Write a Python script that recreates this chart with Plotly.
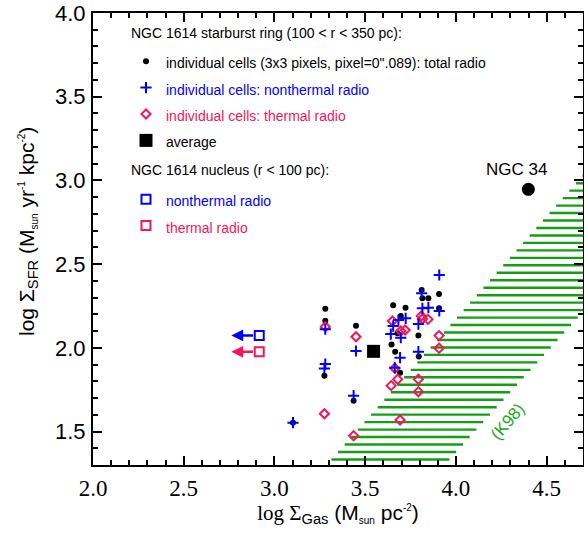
import numpy as np
import plotly.graph_objects as go

# ---------------- data ----------------
# NGC 1614 starburst ring, individual cells
total_x = [3.280, 3.280, 3.275, 3.449, 3.436, 3.654, 3.722, 3.696, 3.678, 3.645,
           3.665, 3.692, 3.811, 3.815, 3.848, 3.907, 3.907, 3.793, 3.795, 3.102]
total_y = [2.234, 2.162, 1.833, 2.132, 1.684, 2.254, 2.240, 2.190, 2.087, 2.020,
           1.977, 1.851, 2.345, 2.296, 2.296, 2.321, 2.236, 2.073, 1.948, 1.553]

nonth_x = [3.908, 3.811, 3.815, 3.848, 3.908, 3.793, 3.723, 3.683, 3.654, 3.641,
           3.696, 3.793, 3.692, 3.663, 3.449, 3.280, 3.280, 3.275, 3.436, 3.102]
nonth_y = [2.435, 2.326, 2.236, 2.240, 2.220, 2.142, 2.176, 2.166, 2.130, 2.082,
           2.060, 1.977, 1.941, 1.881, 1.981, 2.111, 1.903, 1.877, 1.714, 1.553]

therm_x = [3.280, 3.449, 3.275, 3.436, 3.650, 3.696, 3.720, 3.809, 3.815, 3.846,
           3.907, 3.907, 3.663, 3.679, 3.643, 3.793, 3.793, 3.692]
therm_y = [2.126, 2.066, 1.606, 1.475, 2.160, 2.100, 2.106, 2.190, 2.172, 2.170,
           2.073, 1.997, 1.878, 1.812, 1.774, 1.812, 1.738, 1.569]

avg_x = [3.546]
avg_y = [1.979]

# NGC 1614 nucleus (upper limits in gas)
nuc_x = [2.916, 2.916]
nuc_y = [2.074, 1.976]
nuc_limit_x = [2.762, 2.762]
nuc_names = ["nonthermal radio", "thermal radio"]

# NGC 34
ngc34_x = [4.399]
ngc34_y = [2.947]

# K98 band: upper-left and lower-right edges (two points each)
band_left_x = [3.308, 4.661]
band_left_y = [1.326, 2.983]
band_right_x = [3.958, 4.630]
band_right_y = [1.326, 2.131]
hatch_top = 3.028
hatch_step = 0.0446

x_range = [2.0, 4.7]
y_range = [1.3, 4.0]

# ---------------- style ----------------
BLUE = "#0000ff"
RED = "#f5145a"
GREEN = "#12a012"
SANS = "Liberation Sans, Arial, sans-serif"
SERIF = "Liberation Serif, Times New Roman, serif"

W, H = 584, 538
ML, MR, MT, MB = 93, 1, 13, 73
PW, PH = W - ML - MR, H - MT - MB


def px_x(p):  # pixel -> paper x
    return (p - ML) / PW


def px_y(p):  # pixel -> paper y
    return 1 - (p - MT) / PH


def edge(y, ex, ey):
    return ex[0] + (y - ey[0]) * (ex[1] - ex[0]) / (ey[1] - ey[0])


fig = go.Figure()

# K98 hatched band (horizontal hatch lines between the two edges)
levels = hatch_top - hatch_step * np.arange(60)
levels = levels[levels > y_range[0] - 0.01]
hx, hy = [], []
for lv in levels:
    hx += [edge(lv, band_left_x, band_left_y), edge(lv, band_right_x, band_right_y), None]
    hy += [lv, lv, None]
fig.add_trace(go.Scatter(x=hx, y=hy, mode="lines", line=dict(color=GREEN, width=2.4),
                         showlegend=False, hoverinfo="skip"))


def lg(text, color):
    return f'<span style="font-size:14px;color:{color}">{text}</span>'


fig.add_trace(go.Scatter(
    x=total_x, y=total_y, mode="markers",
    marker=dict(symbol="circle", size=6, color="black"),
    name=lg("individual cells (3x3 pixels, pixel=0\".089): total radio", "black"),
    legend="legend", legendrank=1))
fig.add_trace(go.Scatter(
    x=therm_x, y=therm_y, mode="markers",
    marker=dict(symbol="diamond-open", size=7, color=RED, line=dict(width=2, color=RED)),
    name=lg("individual cells: thermal radio", RED),
    legend="legend", legendrank=3))
fig.add_trace(go.Scatter(
    x=nonth_x, y=nonth_y, mode="markers",
    marker=dict(symbol="cross-thin", size=8, color=BLUE, line=dict(width=2, color=BLUE)),
    name=lg("individual cells: nonthermal radio", BLUE),
    legend="legend", legendrank=2))
fig.add_trace(go.Scatter(
    x=avg_x, y=avg_y, mode="markers",
    marker=dict(symbol="square", size=13, color="black"),
    name=lg("average", "black"),
    legend="legend", legendrank=4))

nuc_colors = [BLUE, RED]
for i in range(2):
    fig.add_trace(go.Scatter(
        x=[nuc_x[i]], y=[nuc_y[i]], mode="markers",
        marker=dict(symbol="square-open", size=9, color=nuc_colors[i],
                    line=dict(width=2, color=nuc_colors[i])),
        name=lg(nuc_names[i], nuc_colors[i]),
        legend="legend2", legendrank=5 + i))
    fig.add_annotation(
        x=nuc_limit_x[i], y=nuc_y[i], ax=nuc_x[i] - 0.026, ay=nuc_y[i],
        xref="x", yref="y", axref="x", ayref="y", text="",
        showarrow=True, arrowhead=2, arrowsize=0.95, arrowwidth=2.5,
        arrowcolor=nuc_colors[i], standoff=0, startstandoff=0)

fig.add_trace(go.Scatter(
    x=ngc34_x, y=ngc34_y, mode="markers",
    marker=dict(symbol="circle", size=13, color="black"),
    showlegend=False))
fig.add_annotation(x=ngc34_x[0], y=ngc34_y[0], text="NGC 34", showarrow=False,
                   xshift=-12, yshift=20, font=dict(size=17, family=SANS, color="black"))
fig.add_annotation(x=4.286, y=1.559, text="(K98)", showarrow=False, textangle=-49,
                   font=dict(size=17, family=SANS, color="#22a822"))

# legend headings
fig.add_annotation(xref="paper", yref="paper", x=px_x(129), y=px_y(33),
                   xanchor="left", yanchor="middle", showarrow=False,
                   text="NGC 1614 starburst ring (100 &lt; r &lt; 350 pc):",
                   font=dict(size=14, family=SANS, color="black"))
fig.add_annotation(xref="paper", yref="paper", x=px_x(129), y=px_y(170),
                   xanchor="left", yanchor="middle", showarrow=False,
                   text="NGC 1614 nucleus (r &lt; 100 pc):",
                   font=dict(size=14, family=SANS, color="black"))

# y-axis title
fig.add_annotation(xref="paper", yref="paper", x=px_x(28), y=px_y(232),
                   xanchor="center", yanchor="middle", showarrow=False, textangle=-90,
                   text=('log Σ<sub>SFR</sub> (M<sub><span style="font-size:10px">sun</span></sub> '
                         'yr<sup><span style="font-size:10px">-1</span></sup> '
                         'kpc<sup><span style="font-size:10px">-2</span></sup>)'),
                   font=dict(family=SANS, size=21, color="black"))

axis_common = dict(
    showgrid=False, zeroline=False, showline=True, linecolor="black", linewidth=2,
    mirror="ticks", ticks="inside", ticklen=9, tickwidth=1.5, tickcolor="black",
    minor=dict(ticks="inside", ticklen=5, tickwidth=1.5, tickcolor="black", dtick=0.1),
    dtick=0.5, tickformat=".1f", automargin=False, ticklabeloverflow="allow")

fig.update_xaxes(
    range=x_range, tick0=2.0, ticklabelstandoff=1,
    tickfont=dict(family=SERIF, size=23, color="black"),
    title=dict(
        text=(f'<span style="font-family:{SERIF}">log Σ</span>'
              '<sub>Gas</sub> (M<sub><span style="font-size:10px">sun</span></sub> '
              'pc<sup><span style="font-size:10px">-2</span></sup>)'),
        font=dict(family=SANS, size=21, color="black"), standoff=4),
    **axis_common)
fig.update_yaxes(
    range=y_range, tick0=1.5, ticklabelstandoff=1,
    tickfont=dict(family=SANS, size=22, color="black"),
    **axis_common)

leg_common = dict(xanchor="left", yanchor="top", bgcolor="rgba(0,0,0,0)",
                  font=dict(size=18, family=SANS), itemclick=False)
fig.update_layout(
    width=W, height=H,
    margin=dict(l=ML, r=MR, t=MT, b=MB),
    plot_bgcolor="white", paper_bgcolor="white",
    font=dict(family=SANS, color="black"),
    legend=dict(x=px_x(126), y=px_y(43), **leg_common),
    legend2=dict(x=px_x(126), y=px_y(181), **leg_common),
)

fig.write_html("out.html",
               config={"displayModeBar": False},
               post_script="document.body.style.margin='0';document.body.style.overflow='hidden';")
